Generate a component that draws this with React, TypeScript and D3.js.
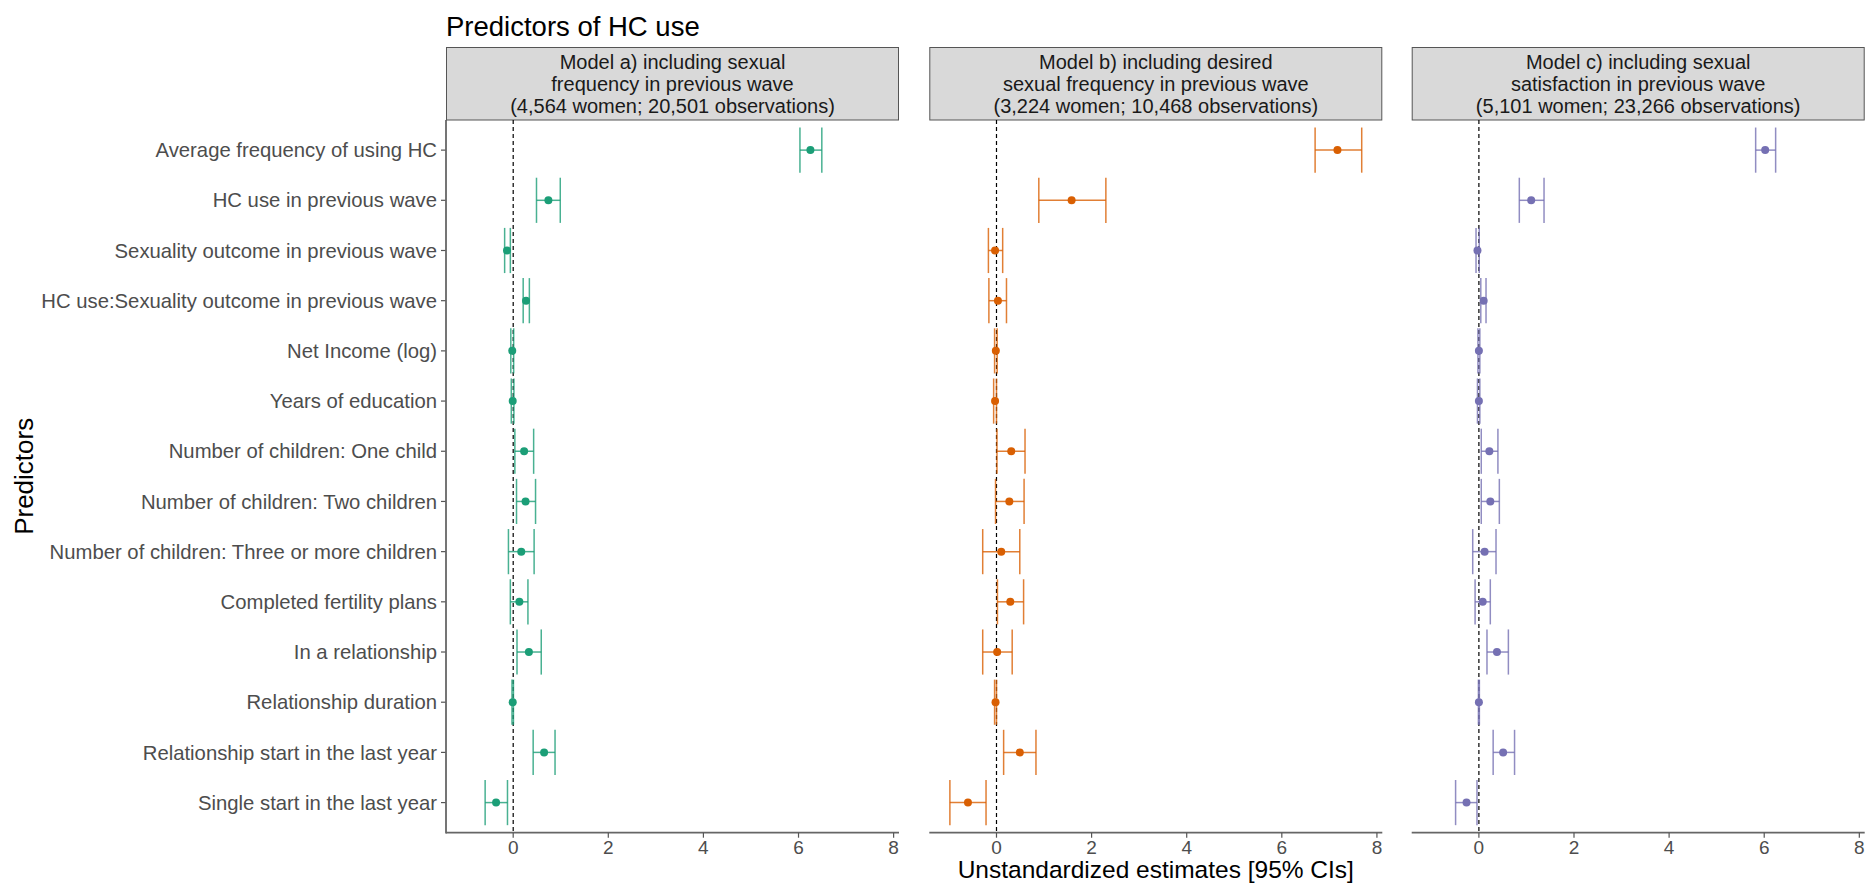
import React, { useEffect } from "react";
import * as d3 from "d3";

const predictors = [
  "Average frequency of using HC",
  "HC use in previous wave",
  "Sexuality outcome in previous wave",
  "HC use:Sexuality outcome in previous wave",
  "Net Income (log)",
  "Years of education",
  "Number of children: One child",
  "Number of children: Two children",
  "Number of children: Three or more children",
  "Completed fertility plans",
  "In a relationship",
  "Relationship duration",
  "Relationship start in the last year",
  "Single start in the last year",
];

const modelTitles = [
  ["Model a) including sexual", "frequency in previous wave", "(4,564 women; 20,501 observations)"],
  ["Model b) including desired", "sexual frequency in previous wave", "(3,224 women; 10,468 observations)"],
  ["Model c) including sexual", "satisfaction in previous wave", "(5,101 women; 23,266 observations)"],
];

const modelColors = ["#1B9E77", "#D95F02", "#7570B3"];

// Model a)
const estA = [6.25, 0.74, -0.13, 0.27, -0.02, -0.01, 0.23, 0.26, 0.17, 0.13, 0.33, -0.01, 0.65, -0.36];
const loA = [6.03, 0.49, -0.18, 0.21, -0.05, -0.04, 0.035, 0.07, -0.10, -0.06, 0.08, -0.025, 0.42, -0.59];
const hiA = [6.49, 0.99, -0.06, 0.34, 0.01, 0.015, 0.43, 0.47, 0.44, 0.31, 0.59, 0.005, 0.88, -0.12];

// Model b)
const estB = [7.17, 1.58, -0.03, 0.03, -0.014, -0.03, 0.31, 0.27, 0.10, 0.29, 0.014, -0.02, 0.49, -0.60];
const loB = [6.70, 0.89, -0.17, -0.16, -0.04, -0.06, 0.01, -0.02, -0.29, 0.02, -0.29, -0.04, 0.15, -0.98];
const hiB = [7.68, 2.30, 0.13, 0.21, 0.014, 0.0, 0.60, 0.58, 0.49, 0.57, 0.33, 0.0, 0.83, -0.22];

// Model c)
const estC = [6.02, 1.10, -0.03, 0.10, 0.0, 0.0, 0.22, 0.24, 0.12, 0.08, 0.38, 0.0, 0.51, -0.26];
const loC = [5.82, 0.85, -0.06, 0.04, -0.02, -0.03, 0.05, 0.05, -0.13, -0.08, 0.17, -0.01, 0.30, -0.49];
const hiC = [6.24, 1.37, 0.007, 0.15, 0.02, 0.02, 0.40, 0.43, 0.36, 0.24, 0.62, 0.01, 0.75, -0.04];

const xTicks = [0, 2, 4, 6, 8];

const models = [
  { est: estA, lo: loA, hi: hiA },
  { est: estB, lo: loB, hi: hiB },
  { est: estC, lo: loC, hi: hiC },
];

const W = 1867;
const H = 884;
const panelLefts = [446, 929.3, 1411.7];
const panelW = 453;
const panelTop = 120;
const panelBottom = 832.7;
const stripTop = 47.5;
const FONT = "'Liberation Sans', Arial, Helvetica, sans-serif";

export default function App() {
  useEffect(() => {
    document.body.style.margin = "0";
  }, []);

  const allVals = models.flatMap((m) => [...m.lo, ...m.hi]);
  const [mn, mx] = d3.extent(allVals) as [number, number];
  const pad = (mx - mn) * 0.05;
  const x = d3.scaleLinear().domain([mn - pad, mx + pad]).range([0, panelW]);
  const y = d3.scalePoint<string>().domain(predictors).range([panelTop, panelBottom]).padding(0.6);
  const step = y.step();
  const capH = step * 0.45;

  return (
    <svg width={W} height={H} style={{ display: "block" }} fontFamily={FONT}>
      <rect width={W} height={H} fill="#fff" />
      <text x={446} y={36} fontSize={27.5} fill="#000">Predictors of HC use</text>

      {/* y axis labels */}
      {predictors.map((p) => (
        <g key={p}>
          <text x={437} y={y(p)!} dy="0.35em" textAnchor="end" fontSize={20.3} fill="#4D4D4D">{p}</text>
          <line x1={441} x2={446} y1={y(p)!} y2={y(p)!} stroke="#555" strokeWidth={1.2} />
        </g>
      ))}
      <line x1={446} x2={446} y1={panelTop} y2={panelBottom + 0.8} stroke="#666" strokeWidth={1.8} />

      <text transform={`translate(33,${(panelTop + panelBottom) / 2}) rotate(-90)`} textAnchor="middle" fontSize={26} fill="#000">Predictors</text>

      {models.map((m, mi) => {
        const left = panelLefts[mi];
        const col = modelColors[mi];
        return (
          <g key={mi} transform={`translate(${left},0)`}>
            {/* strip */}
            <rect x={0.5} y={stripTop} width={panelW - 1} height={panelTop - stripTop} fill="#D9D9D9" stroke="#555" strokeWidth={1} />
            {modelTitles[mi].map((t, li) => (
              <text key={li} x={panelW / 2} y={stripTop + 21.5 + li * 21.8} textAnchor="middle" fontSize={20} fill="#1A1A1A">{t}</text>
            ))}
            {/* zero line */}
            <line x1={x(0)} x2={x(0)} y1={panelTop} y2={panelBottom} stroke="#000" strokeWidth={1.2} strokeDasharray="4,3" />
            {/* error bars & points */}
            {predictors.map((p, i) => {
              const cy = y(p)!;
              return (
                <g key={p}>
                  <g stroke={col} strokeOpacity={0.8} strokeWidth={1.5}>
                    <line x1={x(m.lo[i])} x2={x(m.hi[i])} y1={cy} y2={cy} />
                    <line x1={x(m.lo[i])} x2={x(m.lo[i])} y1={cy - capH} y2={cy + capH} />
                    <line x1={x(m.hi[i])} x2={x(m.hi[i])} y1={cy - capH} y2={cy + capH} />
                  </g>
                  <circle cx={x(m.est[i])} cy={cy} r={4} fill={col} />
                </g>
              );
            })}
            {/* x axis */}
            <line x1={0} x2={panelW} y1={panelBottom} y2={panelBottom} stroke="#666" strokeWidth={1.8} />
            {xTicks.map((t) => (
              <g key={t}>
                <line x1={x(t)} x2={x(t)} y1={panelBottom} y2={panelBottom + 5} stroke="#555" strokeWidth={1.2} />
                <text x={x(t)} y={panelBottom + 21.5} textAnchor="middle" fontSize={19} fill="#4D4D4D">{t}</text>
              </g>
            ))}
          </g>
        );
      })}

      <text x={panelLefts[1] + panelW / 2} y={878} textAnchor="middle" fontSize={24.5} fill="#000">Unstandardized estimates [95% CIs]</text>
    </svg>
  );
}
